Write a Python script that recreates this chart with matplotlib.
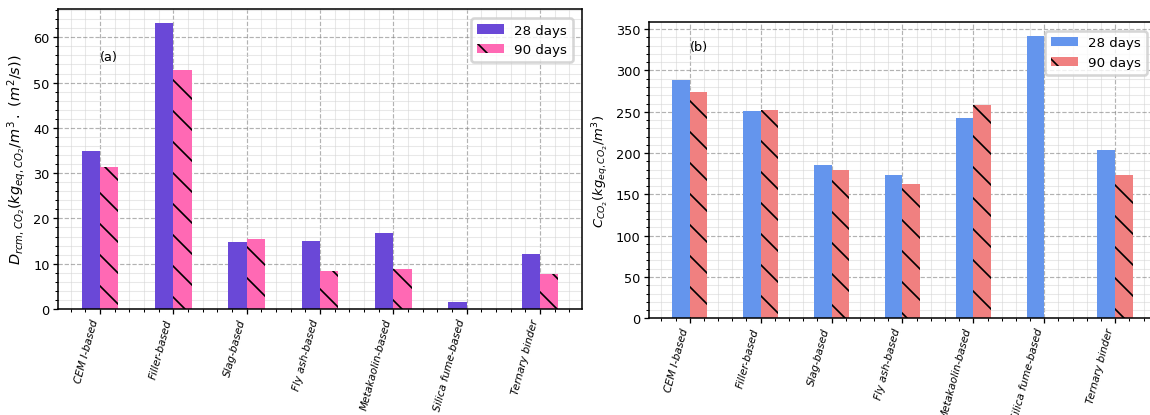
import matplotlib
matplotlib.use('Agg')
import numpy as np
from matplotlib import pyplot as plt

binders = ['CEM I-based', 'Filler-based', 'Slag-based', 'Fly ash-based',
           'Metakaolin-based', 'Silica fume-based', 'Ternary binder']

# (a) D_rcm,CO2
drcm_28 = [35.0, 63.1, 14.9, 15.0, 16.7, 1.5, 12.1]
drcm_90 = [31.3, 52.8, 15.4, 8.5, 8.8, 0.0, 7.8]

# (b) C_CO2
cco2_28 = [288, 251, 185, 174, 242, 342, 204]
cco2_90 = [274, 252, 180, 163, 258, 0, 174]

DPI = 186
plt.rcParams.update({
    'font.size': 5.0,
    'axes.linewidth': 0.6,
    'hatch.linewidth': 0.65,
    'xtick.major.size': 1.8,
    'xtick.minor.size': 1.1,
    'ytick.major.size': 1.8,
    'ytick.minor.size': 1.1,
    'xtick.major.width': 0.5,
    'ytick.major.width': 0.5,
    'xtick.minor.width': 0.4,
    'ytick.minor.width': 0.4,
    'xtick.major.pad': 1.4,
    'ytick.major.pad': 1.4,
    'legend.fontsize': 5.2,
})

fig = plt.figure(figsize=(1150 / DPI, 416 / DPI), dpi=DPI)
ax1 = fig.add_axes([0.0504, 0.2548, 0.4557, 0.7212])
ax2 = fig.add_axes([0.5643, 0.2325, 0.4409, 0.7130])


def draw(ax, v28, v90, c28, c90, ylabel, ylabel_size, tag, tag_y):
    x = np.arange(len(binders))
    w = 0.25
    ax.bar(x - w / 2, v28, w, color=c28, label='28 days', linewidth=0)
    ax.bar(x + w / 2, v90, w, color=c90, label='90 days', hatch='\\\\',
           edgecolor='black', linewidth=0)
    ax.set_xticks(x)
    ax.set_xticklabels(binders, rotation=75, ha='right', fontstyle='italic',
                       fontsize=4.1)
    ax.minorticks_on()
    ax.set_axisbelow(True)
    ax.grid(which='major', linestyle='--', color='gray', alpha=0.6, linewidth=0.45)
    ax.grid(which='minor', linestyle='-', color='lightgray', alpha=0.5, linewidth=0.4)
    ax.set_ylabel(ylabel, labelpad=2, fontsize=ylabel_size)
    ax.text(0, tag_y, tag)
    ax.legend(loc='upper right', borderaxespad=0.7)


draw(ax1, drcm_28, drcm_90, '#6a48d7', 'hotpink',
     r'$D_{rcm,CO_2}(kg_{eq,CO_2}/m^3\,.\ (m^2/s))$', 5.6, '(a)', 55)
draw(ax2, cco2_28, cco2_90, 'cornflowerblue', 'lightcoral',
     r'$C_{CO_2}(kg_{eq,CO_2}/m^3)$', 5.1, '(b)', 325)

fig.savefig('out.png', dpi=DPI)
